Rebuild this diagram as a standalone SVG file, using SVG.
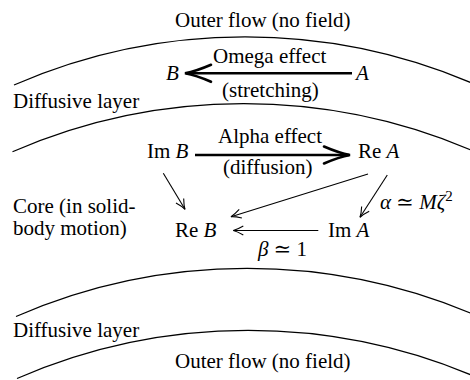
<svg xmlns="http://www.w3.org/2000/svg" width="470" height="380" viewBox="0 0 470 380">
<style>
  text { font-family: "Liberation Serif", "Times New Roman", "DejaVu Serif", serif; font-size: 21px; fill: #000; }
  .it { font-style: italic; }
  .layer { fill: none; stroke: #000; stroke-width: 1.2; }
  .thin { fill: none; stroke: #000; stroke-width: 1.1; marker-end: url(#thinHead); }
  .thick { fill: none; stroke: #000; stroke-width: 2.6; marker-end: url(#thickHead); }
</style>
<defs>
  <marker id="thinHead" markerUnits="userSpaceOnUse" viewBox="-12 -6 14 12" refX="0" refY="0" markerWidth="14" markerHeight="12" orient="auto" overflow="visible">
    <path d="M -10 -4.5 Q -4 -1 0 0 Q -4 1 -10 4.5" fill="none" stroke="#000" stroke-width="1.1"/>
  </marker>
  <marker id="thickHead" markerUnits="userSpaceOnUse" viewBox="-30 -12 32 24" refX="0" refY="0" markerWidth="32" markerHeight="24" orient="auto" overflow="visible">
    <path d="M -25 -8.5 Q -10 -2 1 0 Q -10 2 -25 8.5" fill="none" stroke="#000" stroke-width="2.6" stroke-linecap="round"/>
  </marker>
  <path id="arc" d="M 14 85 A 580 580 0 0 1 476 84.8"/>
</defs>

<g id="layers">
  <use href="#arc" class="layer"/>
  <use href="#arc" class="layer" transform="translate(-1.5 66.8)"/>
  <use href="#arc" class="layer" transform="translate(2 231.5)"/>
  <use href="#arc" class="layer" transform="translate(3 293.5)"/>
</g>

<g id="region-labels">
  <text x="175" y="27">Outer flow (no field)</text>
  <text x="13" y="108">Diffusive layer</text>
  <text x="13" y="213">Core (in solid-</text>
  <text x="13" y="235">body motion)</text>
  <text x="13" y="337">Diffusive layer</text>
  <text x="175" y="368">Outer flow (no field)</text>
</g>

<g id="node-B"><text x="166" y="80" class="it">B</text></g>
<g id="node-A"><text x="356" y="80" class="it">A</text></g>
<g id="node-ImB"><text x="147" y="158">Im <tspan class="it">B</tspan></text></g>
<g id="node-ReA"><text x="358" y="158">Re <tspan class="it">A</tspan></text></g>
<g id="node-ReB"><text x="175" y="237">Re <tspan class="it">B</tspan></text></g>
<g id="node-ImA"><text x="328" y="237">Im <tspan class="it">A</tspan></text></g>

<g id="connectors">
  <line class="thick" x1="352" y1="73.3" x2="186" y2="73.3"/>
  <line class="thick" x1="195" y1="155" x2="349" y2="155"/>
  <line class="thin" x1="163.3" y1="173.3" x2="185" y2="209.3"/>
  <line class="thin" x1="368" y1="174" x2="231" y2="216.7"/>
  <line class="thin" x1="387.3" y1="175" x2="360" y2="217.3"/>
  <line class="thin" x1="318.3" y1="230.5" x2="233.3" y2="230.5"/>
</g>

<g id="edge-labels">
  <text x="213" y="63">Omega effect</text>
  <text x="222" y="97">(stretching)</text>
  <text x="218" y="143">Alpha effect</text>
  <text x="223" y="174">(diffusion)</text>
  <text x="380" y="209"><tspan class="it">α</tspan> ≃ <tspan class="it">M</tspan><tspan class="it">ζ</tspan><tspan dy="-8" font-size="15">2</tspan></text>
  <text x="258" y="256"><tspan class="it">β</tspan> ≃ 1</text>
</g>
</svg>
